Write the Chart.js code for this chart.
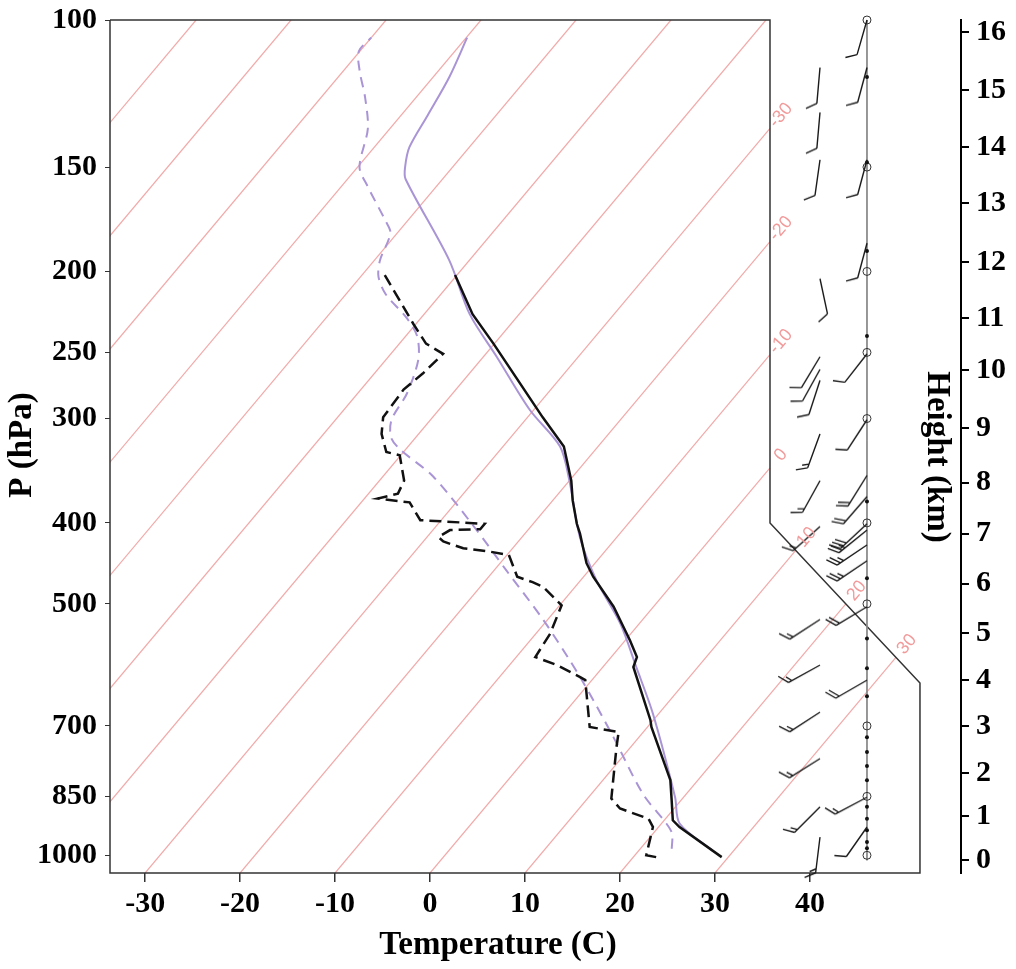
<!DOCTYPE html>
<html>
<head>
<meta charset="utf-8">
<script src="https://cdn.jsdelivr.net/npm/chart.js@4/dist/chart.umd.min.js"></script>
<style>body{margin:0;background:#fff}</style>
</head>
<body>
<canvas id="skewtChart" width="1016" height="969"></canvas>
<script>
// observed sounding (hPa, C)
var obsTempPres = [1005, 925, 908, 859, 813, 702, 689, 595, 579, 553, 504, 464, 447, 412, 401, 376, 356, 324, 299, 268, 244, 225, 202];
var obsTemp = [29.3, 22.2, 20.9, 19.0, 17.1, 10.4, 9.7, 3.2, 2.7, 0.5, -4.2, -9.0, -10.9, -14.2, -15.4, -17.9, -19.8, -23.6, -28.4, -34.7, -40.1, -44.9, -50.2];
var obsDewPres = [1005, 1000, 925, 904, 879, 855, 742, 712, 702, 617, 612, 592, 579, 543, 502, 477, 471, 464, 437, 433, 429, 421, 416, 408, 407, 401, 397, 378, 374, 369, 356, 332, 329, 313, 299, 277, 265, 251, 244, 231, 202];
var obsDew = [22.4, 21.2, 19.4, 18.2, 14.3, 12.5, 8.5, 7.4, 3.9, -0.7, -1.5, -5.0, -8.0, -8.5, -9.8, -13.4, -14.9, -17.0, -19.8, -22.1, -25.2, -27.9, -28.8, -28.2, -25.1, -25.1, -32.2, -34.9, -38.6, -36.9, -37.4, -40.1, -41.8, -43.9, -45.2, -45.5, -44.9, -44.5, -47.2, -50.3, -57.6];

// model profile
var modTempPres = [989, 916, 852, 677, 595, 528, 469, 416, 356, 324, 293, 253, 225, 194, 155, 150, 142, 130, 117, 105];
var modTemp = [27.9, 21.9, 19.1, 9.4, 3.5, -2.0, -8.3, -13.9, -20.0, -24.0, -30.4, -38.6, -45.2, -52.1, -63.9, -65.0, -66.3, -67.2, -68.3, -69.9];
var modDewPres = [982, 942, 916, 844, 722, 612, 523, 456, 404, 352, 327, 316, 301, 280, 255, 239, 227, 213, 203, 194, 180, 174, 158, 150, 135, 124, 115, 109, 105];
var modDew = [23.3, 22.0, 20.5, 15.4, 7.3, -1.5, -10.4, -18.7, -26.0, -34.7, -40.5, -42.6, -44.1, -44.8, -46.6, -48.8, -51.6, -55.8, -58.1, -59.4, -60.7, -62.3, -67.3, -69.8, -72.3, -75.3, -78.3, -80.1, -80.0];

// winds: pressure, direction (deg), speed (kt)
var windPresL = [114, 129, 147, 204, 253, 262, 270, 313, 356, 404, 522, 592, 674, 766, 875, 951];
var windDirL = [185, 185, 188, 168, 211, 209, 198, 200, 209, 228, 237, 241, 237, 238, 225, 187];
var windSpdL = [10, 10, 10, 10, 10, 10, 10, 15, 15, 15, 15, 15, 15, 15, 15, 15];
var windPresR = [100, 114, 147, 185, 251, 301, 351, 372, 401, 408, 425, 444, 504, 617, 852, 925];
var windDirR = [196, 195, 195, 195, 218, 213, 212, 221, 227, 231, 236, 236, 239, 240, 242, 215];
var windSpdR = [10, 10, 10, 10, 10, 10, 20, 20, 30, 25, 25, 25, 20, 20, 15, 10];
var levelDots = [117, 148, 189, 239, 377, 466, 550, 597, 645, 722, 752, 782, 813, 875, 904, 933, 964, 981];

// axes
var presTicks = [100, 150, 200, 250, 300, 400, 500, 700, 850, 1000];
var tempTicks = [-30, -20, -10, 0, 10, 20, 30, 40];
var heightKm = [0, 1, 2, 3, 4, 5, 6, 7, 8, 9, 10, 11, 12, 13, 14, 15, 16];
var heightPres = [1014, 898, 797, 701, 617, 542, 473, 412, 358, 308, 262.5, 227.6, 194.8, 165.8, 141.9, 121.3, 103.3];
var isoTemps = [-100, -90, -80, -70, -60, -50, -40, -30, -20, -10, 0, 10, 20, 30];

var SKEW = 73.8, P_BOT = 1050, P_TOP = 100;
var X_MIN = -33.7, X_MAX = 55.9;
var EDGE_X1 = 35.79, EDGE_P1 = 400, EDGE_X2 = 51.58, EDGE_P2 = 622;
var COL_L = 41.05, COL_R = 46.0;

function skewX(t, p) {
    return t + SKEW * Math.log10(P_BOT / p);
}

function profile(pres, temps) {
    return pres.map(function(p, i) { return {x: skewX(temps[i], p), y: p}; });
}

function frameRight(p) {
    if (p <= EDGE_P1) return EDGE_X1;
    if (p >= EDGE_P2) return EDGE_X2;
    return EDGE_X1 + (EDGE_X2 - EDGE_X1) * Math.log(p / EDGE_P1) / Math.log(EDGE_P2 / EDGE_P1);
}

// where an isotherm leaves the diagram frame
function isoEnd(t) {
    if (skewX(t, P_TOP) <= frameRight(P_TOP)) return {p: P_TOP, edge: false};
    var lo = P_TOP, hi = P_BOT;
    for (var i = 0; i < 60; i++) {
        var mid = Math.sqrt(lo * hi);
        if (skewX(t, mid) - frameRight(mid) > 0) lo = mid; else hi = mid;
    }
    return {p: lo, edge: true};
}

function barbCanvas(dir, spd) {
    var c = document.createElement('canvas');
    c.width = 100; c.height = 100;
    var g = c.getContext('2d');
    var a = dir * Math.PI / 180;
    var ux = Math.sin(a), uy = -Math.cos(a);
    var len = 36;
    g.strokeStyle = '#1a1a1a';
    g.lineWidth = 1.4;
    g.beginPath();
    g.moveTo(50, 50);
    g.lineTo(50 + ux * len, 50 + uy * len);
    var fa = Math.atan2(uy, ux) + Math.PI / 3;
    var fx = Math.cos(fa), fy = Math.sin(fa);
    var full = Math.floor(spd / 10);
    var half = Math.round((spd - full * 10) / 5);
    var pos = len;
    for (var k = 0; k < full; k++) {
        g.moveTo(50 + ux * pos, 50 + uy * pos);
        g.lineTo(50 + ux * pos + fx * 12, 50 + uy * pos + fy * 12);
        pos -= 4;
    }
    if (half) {
        g.moveTo(50 + ux * pos, 50 + uy * pos);
        g.lineTo(50 + ux * pos + fx * 7, 50 + uy * pos + fy * 7);
    }
    g.stroke();
    return c;
}

var frame = [
    {x: X_MIN, y: P_TOP}, {x: EDGE_X1, y: P_TOP}, {x: EDGE_X1, y: EDGE_P1},
    {x: EDGE_X2, y: EDGE_P2}, {x: EDGE_X2, y: P_BOT}, {x: X_MIN, y: P_BOT}, {x: X_MIN, y: P_TOP}
];

var datasets = [
    {data: profile(obsTempPres, obsTemp), showLine: true, borderColor: '#111', borderWidth: 2.5, pointRadius: 0, order: 0},
    {data: profile(obsDewPres, obsDew), showLine: true, borderColor: '#111', borderWidth: 2.5, borderDash: [12, 6], pointRadius: 0, order: 1},
    {data: profile(modTempPres, modTemp), showLine: true, borderColor: '#a994d6', borderWidth: 2, tension: 0.3, pointRadius: 0, order: 2},
    {data: profile(modDewPres, modDew), showLine: true, borderColor: '#a994d6', borderWidth: 2, borderDash: [10, 7], tension: 0.3, pointRadius: 0, order: 3},
    {data: windPresL.map(function(p) { return {x: COL_L, y: p}; }),
     pointStyle: windPresL.map(function(p, i) { return barbCanvas(windDirL[i], windSpdL[i]); }),
     pointRadius: 1, clip: false, order: 4},
    {data: windPresR.map(function(p) { return {x: COL_R, y: p}; }),
     pointStyle: windPresR.map(function(p, i) { return barbCanvas(windDirR[i], windSpdR[i]); }),
     pointRadius: 1, clip: false, order: 4},
    {data: levelDots.map(function(p) { return {x: COL_R, y: p}; }), pointRadius: 2, backgroundColor: '#111', borderWidth: 0, clip: false, order: 5},
    {data: presTicks.map(function(p) { return {x: COL_R, y: p}; }), pointRadius: 4, backgroundColor: 'rgba(0,0,0,0)', borderColor: '#333', borderWidth: 1, clip: false, order: 5},
    {data: [{x: COL_R, y: P_TOP}, {x: COL_R, y: 1014}], showLine: true, borderColor: '#888', borderWidth: 1, pointRadius: 0, clip: false, order: 6},
    {data: frame, showLine: true, borderColor: '#333', borderWidth: 1.5, pointRadius: 0, clip: false, order: 7}
];

isoTemps.forEach(function(t) {
    var end = isoEnd(t);
    datasets.push({
        data: [{x: skewX(t, P_BOT), y: P_BOT}, {x: skewX(t, end.p), y: end.p}],
        showLine: true, borderColor: '#f2a9a9', borderWidth: 1.2, pointRadius: 0, order: 10
    });
});

var labelPlugin = {
    id: 'skewLabels',
    afterDraw: function(chart) {
        var ctx = chart.ctx;
        var xs = chart.scales.x, ys = chart.scales.y;
        ctx.save();
        ctx.fillStyle = '#f29a9a';
        ctx.font = '18px "Liberation Sans"';
        ctx.textAlign = 'center';
        ctx.textBaseline = 'middle';
        isoTemps.forEach(function(t) {
            var end = isoEnd(t);
            if (!end.edge) return;
            var x1 = xs.getPixelForValue(skewX(t, end.p)), y1 = ys.getPixelForValue(end.p);
            var x0 = xs.getPixelForValue(skewX(t, end.p * 1.1)), y0 = ys.getPixelForValue(end.p * 1.1);
            var ang = Math.atan2(y1 - y0, x1 - x0);
            ctx.save();
            ctx.translate(x1 + Math.cos(ang) * 17, y1 + Math.sin(ang) * 17);
            ctx.rotate(ang);
            ctx.fillText(String(t), 0, 0);
            ctx.restore();
        });

        ctx.fillStyle = '#000';
        ctx.font = 'bold 33px "Liberation Serif"';
        ctx.fillText('Temperature (C)', 498, 945);
        ctx.save();
        ctx.translate(22, 445);
        ctx.rotate(-Math.PI / 2);
        ctx.fillText('P (hPa)', 0, 0);
        ctx.restore();
        ctx.save();
        ctx.translate(937, 457);
        ctx.rotate(Math.PI / 2);
        ctx.fillText('Height (km)', 0, 0);
        ctx.restore();
        ctx.restore();
    }
};

var tickFont = {family: 'Liberation Serif', size: 30, weight: 'bold'};

function fixHeight(s) { s.height = 96; s.paddingLeft = 0; s.paddingRight = 0; }
function fixWidth(w) {
    return function(s) { s.width = w; s.paddingTop = 0; s.paddingBottom = 0; };
}

new Chart(document.getElementById('skewtChart').getContext('2d'), {
    type: 'scatter',
    data: {datasets: datasets},
    options: {
        responsive: false,
        animation: false,
        devicePixelRatio: 1,
        events: [],
        layout: {padding: {top: 20, left: 0, right: 0, bottom: 0}},
        plugins: {legend: {display: false}, tooltip: {enabled: false}},
        scales: {
            x: {
                type: 'linear', min: X_MIN, max: X_MAX,
                afterBuildTicks: function(s) { s.ticks = tempTicks.map(function(v) { return {value: v}; }); },
                afterFit: fixHeight,
                ticks: {font: tickFont, color: '#000', padding: 4, autoSkip: false, maxRotation: 0,
                        callback: function(v) { return String(v); }},
                grid: {drawOnChartArea: false, tickLength: 9, color: '#333', lineWidth: 1.5},
                border: {display: false}
            },
            y: {
                type: 'logarithmic', position: 'left', reverse: true, min: P_TOP, max: P_BOT,
                afterBuildTicks: function(s) { s.ticks = presTicks.map(function(v) { return {value: v}; }); },
                afterFit: fixWidth(110),
                ticks: {font: tickFont, color: '#000', padding: 8, autoSkip: false,
                        callback: function(v) { return String(v); }},
                grid: {drawOnChartArea: false, tickLength: 5, color: '#333', lineWidth: 1},
                border: {display: false}
            },
            yh: {
                type: 'logarithmic', position: 'right', reverse: true, min: P_TOP, max: P_BOT,
                afterBuildTicks: function(s) { s.ticks = heightPres.map(function(v) { return {value: v}; }); },
                afterFit: fixWidth(55),
                ticks: {font: tickFont, color: '#000', padding: 7, autoSkip: false,
                        callback: function(v, i) { return String(heightKm[i]); }},
                grid: {drawOnChartArea: false, tickLength: 8, color: '#000', lineWidth: 2},
                border: {display: true, color: '#000', width: 2}
            }
        }
    },
    plugins: [labelPlugin]
});
</script>
</body>
</html>
